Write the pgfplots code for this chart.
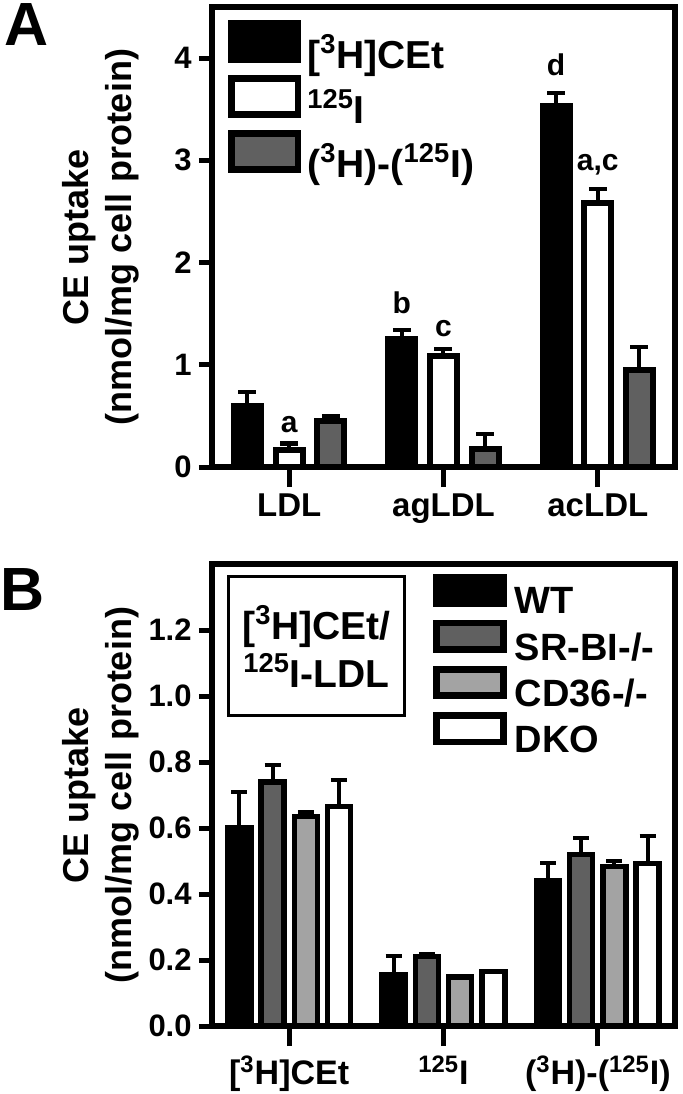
\documentclass[border=0pt]{standalone}
\usepackage{fontspec}
\setmainfont{Liberation Sans}
\usepackage{pgfplots}
\pgfplotsset{compat=1.18}
\definecolor{dg}{HTML}{606060}
\definecolor{lg}{HTML}{A3A3A3}
\newcommand{\sps}[1]{\textsuperscript{#1}}
\newcommand{\lstr}{\rule[-5pt]{0pt}{19pt}}
\pgfplotsset{
 mystyle/.style={
  scale only axis, width=231.5pt,
  xmin=-0.5, xmax=2.5, ymin=0,
  axis line style={line width=3pt},
  tick align=outside, tick pos=left,
  major tick length=6.5pt,
  tick style={line width=2.5pt, black},
  xtick={0,1,2},
  xtick style={/pgfplots/major tick length=10pt},
  yticklabel style={font=\fontsize{15.5}{16}\selectfont\bfseries, inner sep=0pt, xshift=-3.5pt},
  xticklabel style={font=\fontsize{16.5}{17}\selectfont\bfseries, inner sep=0pt, yshift=-6.5pt},
  ylabel style={at={(axis description cs:-0.1555,0.5)}, anchor=south, inner sep=0pt, align=center, font=\fontsize{18}{21.5}\selectfont\bfseries},
  ylabel={CE uptake\\(nmol/mg cell protein)},
  ybar, bar shift=0pt,
  error bars/y dir=plus, error bars/y explicit,
  error bars/error bar style={line width=2pt, black},
  clip=false,
  legend cell align=left,
 }
}
\begin{document}
\begin{tikzpicture}
\useasboundingbox (0,0) rectangle (341.5pt,-547pt);
\node[anchor=north west, inner sep=0pt, font=\fontsize{30.5}{30.5}\selectfont\bfseries] at (2pt,-1.5pt) {A};
\node[anchor=north west, inner sep=0pt, font=\fontsize{30.5}{30.5}\selectfont\bfseries] at (0pt,-284pt) {B};

% ---------------- Panel A ----------------
\begin{axis}[mystyle, at={(106pt,-233.5pt)}, anchor=south west, height=230pt, ymax=4.5,
 ytick={0,1,2,3,4}, yticklabels={0,1,2,3,4},
 xticklabels={LDL,agLDL,acLDL},
 bar width=13.5pt,
 error bars/error mark options={line width=2pt, black, mark size=4.5pt, rotate=90},
 legend image code/.code={\draw[#1, line width=3.3pt] (0pt,-3.5pt) rectangle (33.2pt,14.5pt);},
 legend style={at={(axis description cs:0,1)}, anchor=north west, xshift=8pt, yshift=-6.5pt,
   draw=none, fill=none, inner sep=0pt, row sep=2pt, column sep=3pt,
   font=\fontsize{19.5}{20}\selectfont\bfseries, nodes={inner sep=0pt}},
]
\addplot[fill=black, draw=black, line width=3pt] table[x=x, y=y, y error=e] {
x y e
-0.27 0.60 0.13
0.73 1.25 0.09
1.73 3.53 0.13
};
\addlegendentry{\lstr[\sps{3}H]CEt}
\addplot[fill=white, draw=black, line width=3pt] table[x=x, y=y, y error=e] {
x y e
0 0.17 0.06
1 1.09 0.06
2 2.58 0.14
};
\addlegendentry{\lstr\sps{125}I}
\addplot[fill=dg, draw=black, line width=3pt] table[x=x, y=y, y error=e] {
x y e
0.27 0.45 0.05
1.27 0.18 0.14
2.27 0.95 0.22
};
\addlegendentry{\lstr(\sps{3}H)-(\sps{125}I)}
\node[font=\fontsize{15}{15}\selectfont\bfseries, anchor=base] at (axis cs:0,0.34) {a};
\node[font=\fontsize{15}{15}\selectfont\bfseries, anchor=base] at (axis cs:0.73,1.50) {b};
\node[font=\fontsize{15}{15}\selectfont\bfseries, anchor=base] at (axis cs:1,1.28) {c};
\node[font=\fontsize{15}{15}\selectfont\bfseries, anchor=base] at (axis cs:1.73,3.83) {d};
\node[font=\fontsize{15}{15}\selectfont\bfseries, anchor=base] at (axis cs:2,2.90) {a,c};
\end{axis}

% ---------------- Panel B ----------------
\begin{axis}[mystyle, at={(106pt,-513pt)}, anchor=south west, height=231pt, ymax=1.4,
 ytick={0,0.2,0.4,0.6,0.8,1.0,1.2}, yticklabels={0.0,0.2,0.4,0.6,0.8,1.0,1.2},
 xticklabels={{[\sps{3}H]CEt},{\sps{125}I},{(\sps{3}H)-(\sps{125}I)}},
 xticklabel style={font=\fontsize{17}{17}\selectfont\bfseries, yshift=-1.5pt},
 bar width=11.5pt,
 error bars/error mark options={line width=2pt, black, mark size=4pt, rotate=90},
 legend image code/.code={\draw[#1, line width=3.3pt] (0pt,-0.8pt) rectangle (33.5pt,12.4pt);},
 legend style={at={(axis description cs:0,1)}, anchor=north west, xshift=110.5pt, yshift=-4.8pt,
   draw=none, fill=none, inner sep=0pt, row sep=1.5pt, column sep=4pt,
   font=\fontsize{19}{19}\selectfont\bfseries, nodes={inner sep=0pt}},
]
\addplot[fill=black, draw=black, line width=2.75pt] table[x=x, y=y, y error=e] {
x y e
-0.3225 0.60 0.11
0.6775 0.155 0.058
1.6775 0.44 0.053
};
\addlegendentry{WT}
\addplot[fill=dg, draw=black, line width=2.75pt] table[x=x, y=y, y error=e] {
x y e
-0.1075 0.74 0.052
0.8925 0.21 0.008
1.8925 0.52 0.05
};
\addlegendentry{SR-BI-/-}
\addplot[fill=lg, draw=black, line width=2.75pt] table[x=x, y=y, y error=e] {
x y e
0.1075 0.635 0.013
1.1075 0.148 0.0
2.1075 0.483 0.016
};
\addlegendentry{CD36-/-}
\addplot[fill=white, draw=black, line width=2.75pt] table[x=x, y=y, y error=e] {
x y e
0.3225 0.665 0.08
1.3225 0.165 0.0
2.3225 0.493 0.083
};
\addlegendentry{DKO}
\end{axis}

\node[draw, line width=1.5pt, minimum width=88pt, minimum height=69.5pt, align=center, inner sep=0pt,
  font=\fontsize{19.5}{24}\selectfont\bfseries] at (158.25pt,-323pt) {\relax[\sps{3}H]CEt/\\\sps{125}I-LDL};
\end{tikzpicture}
\end{document}
